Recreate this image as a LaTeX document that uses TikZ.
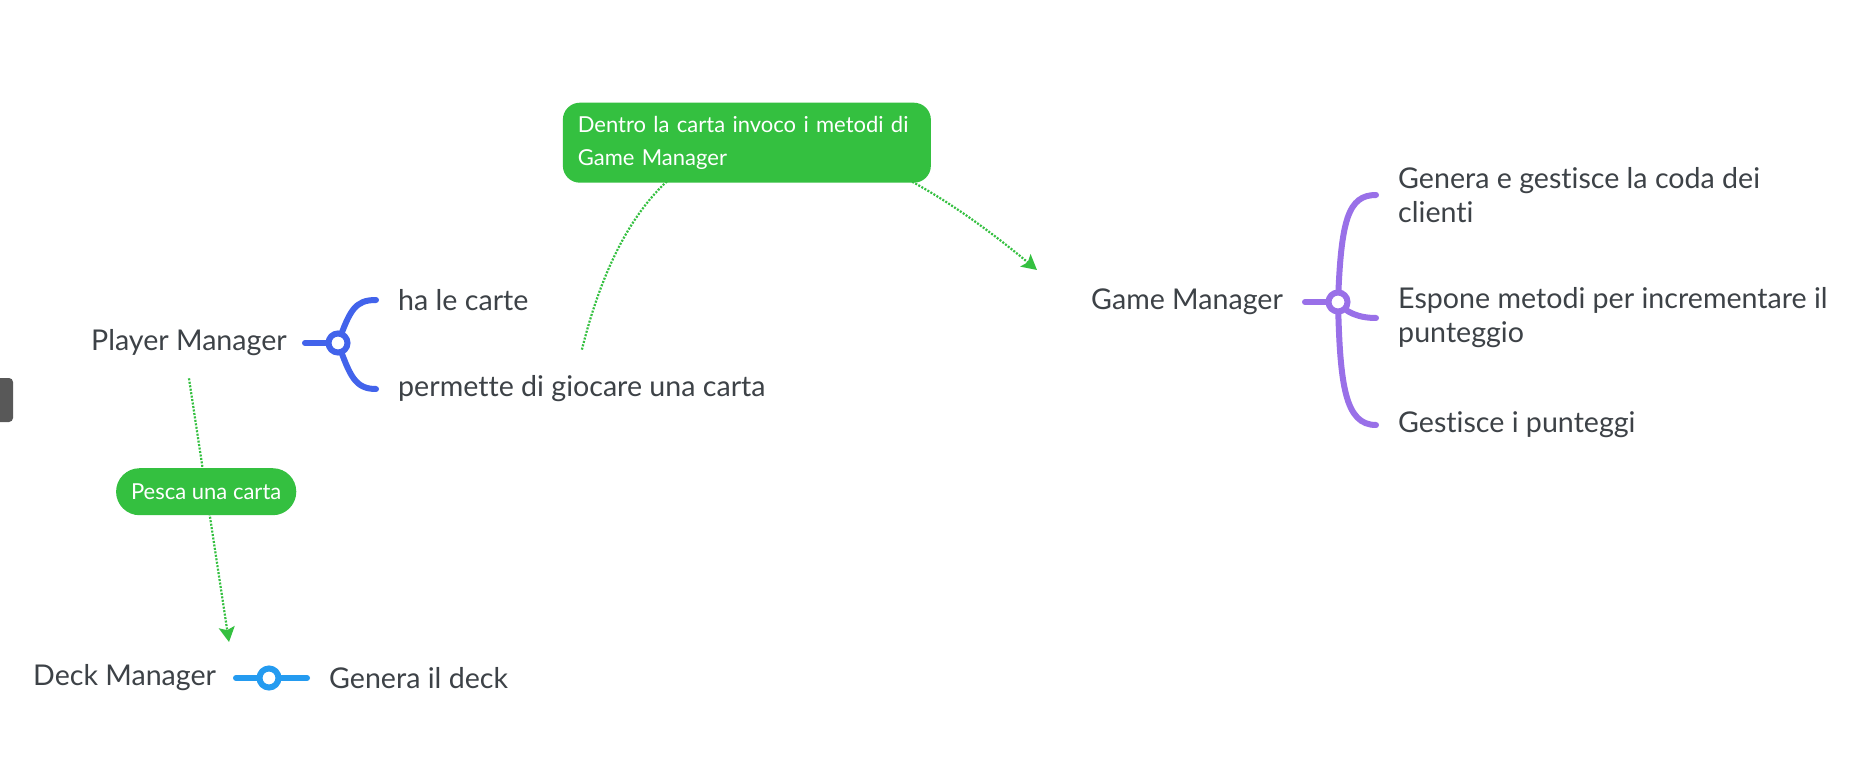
\documentclass[tikz,border=0pt]{standalone}
\usepackage{fontspec}
\setmainfont{Lato}[Ligatures=NoCommon]
\usetikzlibrary{arrows.meta}
\definecolor{inkgray}{RGB}{61,66,71}
\definecolor{relgreen}{RGB}{52,192,64}
\definecolor{hubblue}{RGB}{66,99,235}
\definecolor{hubsky}{RGB}{36,155,240}
\definecolor{hubviolet}{RGB}{153,112,232}
\definecolor{tabgray}{RGB}{88,88,88}

\begin{document}
\begin{tikzpicture}[%
x=1pt, y=-1pt,
topic/.style={anchor=west, inner sep=0pt, text=inkgray, font=\fontsize{28.6}{34}\selectfont},
subtopic/.style={topic, inner xsep=22pt, align=left},
hub/.style={circle, draw=#1, fill=white, line width=6pt, minimum size=19pt, inner sep=0pt},
branch/.style={draw=#1, line width=6pt, line cap=round},
relbox/.style={fill=relgreen, text=white, inner sep=0pt, inner xsep=15pt, font=\fontsize{22}{33}\selectfont},
rel/.style={draw=relgreen, line width=2.2pt, dash pattern=on 2pt off 1.5pt, -{Stealth[length=15pt,width=16pt,inset=3pt]}},
]
\fill [white] (0,0) rectangle (1865,767);
\useasboundingbox (0,0) rectangle (1865,767);
\fill [tabgray, rounded corners=4pt] (-8,378) rectangle (13,422);
%% topic;
\node [topic] (player) at (91,343) {Player Manager};
\node [subtopic] (ha) at (376,300) {ha le carte};
\node [subtopic] (permette) at (376,389) {permette di giocare una carta};
%% topic;
\node [topic] (gm) at (1091,302) {Game Manager};
\node [subtopic] (genera) at (1376,195) {Genera e gestisce la coda dei\\clienti};
\node [subtopic] (espone) at (1376,318) {Espone metodi per incrementare il\\punteggio};
\node [subtopic] (gestisce) at (1376,425) {Gestisce i punteggi};
%% topic;
\node [topic] (deck) at (33,678) {Deck Manager};
\node [subtopic] (generadeck) at (307,678) {Genera il deck};
%% hubs;
\coordinate (phub) at (338,343);
\coordinate (ghub) at (1338,302);
\coordinate (dhub) at (269,678);
\coordinate (gmin) at (1037,270);
\coordinate (deckin) at (229,642);
%% branch;
\draw [branch=hubblue] (phub) -- ++(-33,0);
\draw [branch=hubblue] (phub) .. controls (350,310) and (355,300) .. (ha.west);
\draw [branch=hubblue] (phub) .. controls (350,376) and (355,389) .. (permette.west);
\node [hub=hubblue] (phubring) at (phub) {};
%% branch;
\draw [branch=hubviolet] (ghub) -- ++(-33,0);
\draw [branch=hubviolet] (ghub) .. controls (1341,220) and (1348,195) .. (genera.west);
\draw [branch=hubviolet] (ghub) .. controls (1345,312) and (1358,318) .. (espone.west);
\draw [branch=hubviolet] (ghub) .. controls (1340,385) and (1345,425) .. (gestisce.west);
\node [hub=hubviolet] (ghubring) at (ghub) {};
%% branch;
\draw [branch=hubsky] (dhub) -- ++(-33,0);
\draw [branch=hubsky] (dhub) -- (generadeck.west);
\node [hub=hubsky] (dhubring) at (dhub) {};
%% relation;
\draw [rel] ([yshift=26pt]permette.north) .. controls (645,95) and (807,79) .. (gmin)
  node [relbox, pos=0.5, rounded corners=17pt, text width=338pt, align=left, minimum height=80pt] (dentro) {Dentro la carta invoco i metodi di\\Game Manager};
%% relation;
\draw [rel] ([yshift=-22pt]player.south) -- (deckin)
  node [relbox, pos=0.43, rounded corners=23.5pt, minimum height=47pt] (pesca) {Pesca una carta};
\end{tikzpicture}
\end{document}
